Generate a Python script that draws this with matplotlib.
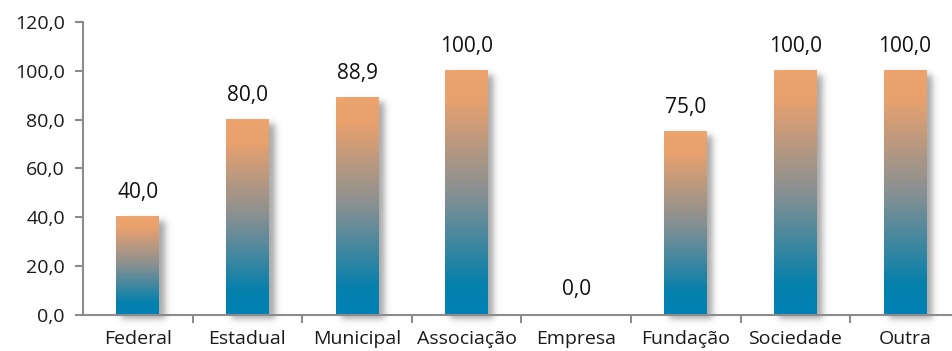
import matplotlib
matplotlib.use("Agg")
import matplotlib.pyplot as plt
import numpy as np
from matplotlib.colors import LinearSegmentedColormap

categories = ["Federal", "Estadual", "Municipal", "Associação", "Empresa",
              "Fundação", "Sociedade", "Outra"]
values = [40.0, 80.0, 88.9, 100.0, 0.0, 75.0, 100.0, 100.0]
yticks = [0, 20, 40, 60, 80, 100, 120]

plt.rcParams['font.family'] = ['Open Sans', 'DejaVu Sans']

W, H = 952, 351
fig = plt.figure(figsize=(W / 100, H / 100), dpi=100)
left_px, bottom_px, top_px = 83, 314.5, 22.3
ax = fig.add_axes([left_px / W, (H - bottom_px) / H, (W - left_px) / W,
                   (bottom_px - top_px) / H])
px_per_x = 109.6
xmax = -0.5 + (W - left_px) / px_per_x
px_per_y = (bottom_px - top_px) / 120.0

cmap = LinearSegmentedColormap.from_list("g", [
    (0.0, (0 / 255, 130 / 255, 180 / 255)),
    (0.12, (5 / 255, 128 / 255, 172 / 255)),
    (0.5, (136 / 255, 144 / 255, 146 / 255)),
    (0.88, (232 / 255, 161 / 255, 110 / 255)),
    (1.0, (237 / 255, 164 / 255, 109 / 255)),
])


def smooth(t):
    return 0.5 * (1 + np.tanh(t * 0.9))


bw = 0.39
grad = np.linspace(0, 1, 256).reshape(-1, 1)
for i, v in enumerate(values):
    x0 = i - bw / 2
    if v > 0:
        bw_px = bw * px_per_x
        h_px = v * px_per_y
        pad = 16
        xs = np.arange(-pad, bw_px + pad + 6, 1.0)
        ys = np.arange(-pad, h_px + pad, 1.0)
        sig = 3.5
        sx0, sx1 = 5.0, bw_px + 6.0
        sy0, sy1 = -5.0, h_px - 4.0
        ax_ = smooth((xs - sx0) / sig) * smooth((sx1 - xs) / sig)
        ay_ = smooth((ys - sy0) / sig) * smooth((sy1 - ys) / sig)
        a = np.outer(ay_, ax_) * 0.55
        img = np.zeros((len(ys), len(xs), 4))
        img[..., 0:3] = 0.38
        img[..., 3] = a
        ax.imshow(img, extent=(x0 + xs[0] / px_per_x, x0 + xs[-1] / px_per_x,
                               ys[0] / px_per_y, ys[-1] / px_per_y),
                  origin="lower", aspect="auto", zorder=1,
                  interpolation="bilinear", clip_on=False)
        ax.imshow(grad, extent=(x0, x0 + bw, 0, v), origin="lower",
                  cmap=cmap, aspect="auto", zorder=2, interpolation="bilinear")
    ax.text(i, v + 19 / px_per_y, f"{v:.1f}".replace(".", ","), ha="center",
            va="baseline", fontsize=15, color="#111111", zorder=5)

ax.set_xlim(-0.5, xmax)
ax.set_ylim(0, 120)

ax.set_yticks(yticks)
ax.set_yticklabels([f"{t:.1f}".replace(".", ",") for t in yticks],
                   fontsize=14, color="#1a1a1a")
ax.set_xticks(range(len(categories)))
ax.set_xticklabels(categories, fontsize=14, color="#1a1a1a")
ax.set_xticks(np.arange(0.5, len(categories) - 0.5, 1), minor=True)
ax.tick_params(axis="x", which="major", length=0, pad=11)
ax.tick_params(axis="x", which="minor", length=6, color="#8c8c8c", width=1.5)
ax.tick_params(axis="y", length=6, color="#8c8c8c", width=1.5, pad=7)

for s in ["top", "right"]:
    ax.spines[s].set_visible(False)
for s in ["left", "bottom"]:
    ax.spines[s].set_color("#8c8c8c")
    ax.spines[s].set_linewidth(1.5)
ax.spines["bottom"].set_zorder(6)

fig.savefig("out.png", dpi=100)
